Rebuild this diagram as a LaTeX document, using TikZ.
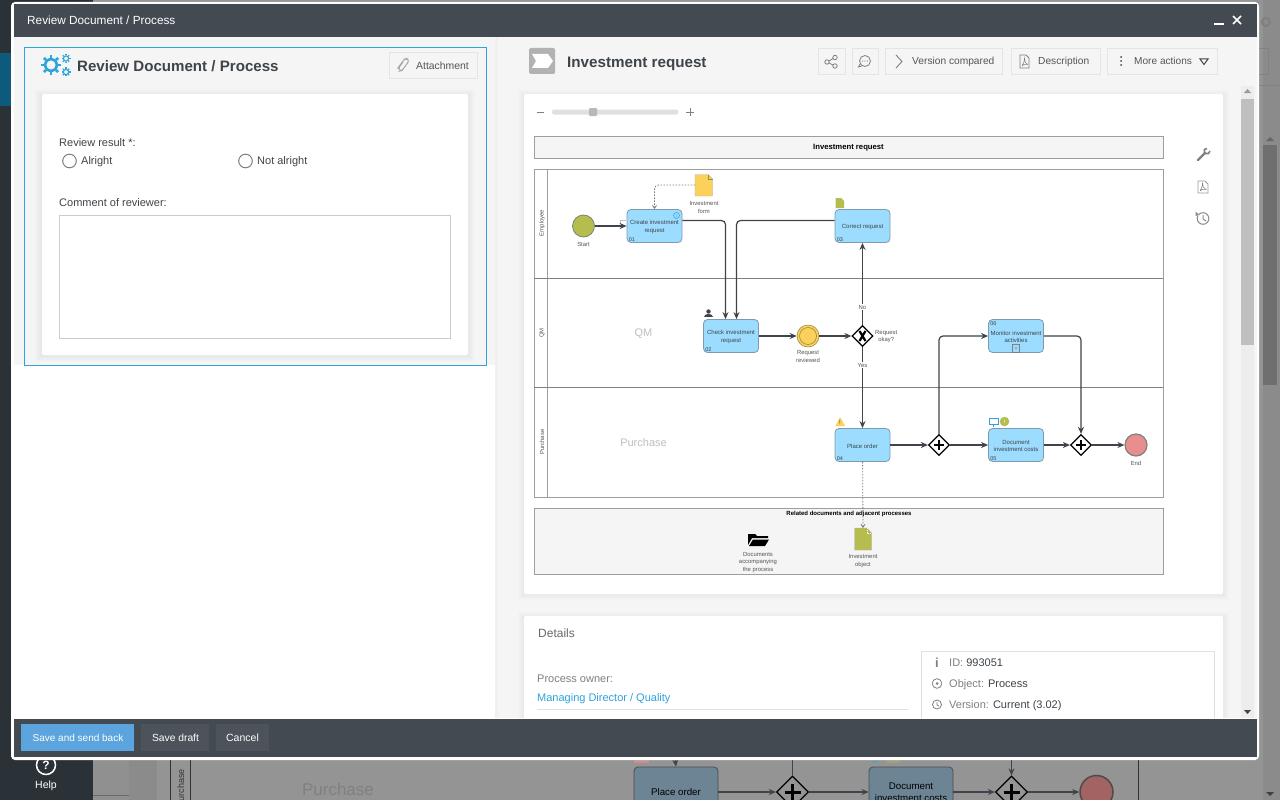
\documentclass[tikz,border=0pt]{standalone}
\usepackage{fontspec}
\setmainfont{Liberation Sans}
\usetikzlibrary{arrows.meta,shapes.geometric,calc}
\definecolor{bar}{HTML}{434A51}
\definecolor{side}{HTML}{2A3137}
\definecolor{dim}{HTML}{949494}
\definecolor{pane}{HTML}{F5F5F5}
\definecolor{cyan1}{HTML}{2EA3DC}
\definecolor{task}{HTML}{9CDCFF}
\definecolor{taskb}{HTML}{7F9BAE}
\definecolor{olive}{HTML}{B5BD4E}
\definecolor{yel}{HTML}{FBD15B}
\definecolor{redd}{HTML}{E88E8E}
\definecolor{ln}{HTML}{3E444A}
\definecolor{txt}{HTML}{555555}
\definecolor{btnb}{HTML}{E4E4E4}
\definecolor{mainbtn}{HTML}{5BA4DD}
\definecolor{deep}{HTML}{0D5A7D}
\tikzset{
 x=1pt,y=-1pt,
 lbl/.style={inner sep=0pt,align=center,text=#1},
 lbl/.default=txt,
 f/.style={font=\fontsize{#1}{13}\selectfont,text height=#1*.72pt,text depth=0pt},
 btn/.style={draw=btnb,fill=pane,line width=.8pt},
 task/.style={draw=taskb,fill=task,rounded corners=4pt,line width=.8pt,minimum width=55pt,minimum height=33pt,inner sep=0pt,align=center,font=\fontsize{6}{7.2}\selectfont,text=ln,text height=6.4pt},
 mtask/.style={task,text height=13.5pt},
 bgtask/.style={task,draw=black!70,fill=taskb!85!black,minimum width=84pt,minimum height=50pt,text=black,font=\fontsize{9.7}{11.7}\selectfont,text height=7pt},
 bgmtask/.style={bgtask,text height=19pt},
 flow/.style={draw=ln,line width=1.2pt,rounded corners=4pt,-{Stealth[length=7pt,width=6pt]}},
 assoc/.style={draw=ln!70,line width=.8pt,dash pattern=on 1.5pt off 1.5pt,rounded corners=4pt,-{Straight Barb[length=3pt,width=4pt]}},
 gate/.style={diamond,draw=black,fill=white,line width=1.2pt,minimum width=21pt,minimum height=21pt,inner sep=0pt,aspect=1},
 small/.style={inner sep=0pt,align=center,text=txt,font=\fontsize{5.9}{7.2}\selectfont},
 lane/.style={draw=black!38,line width=.9pt},
 shadow/.style={fill=black,opacity=.009},
}
\begin{document}
\begin{tikzpicture}
\useasboundingbox (0,0) rectangle (1280,800);
% background
\fill[dim] (0,0) rectangle (1280,800);
\fill[side] (0,0) rectangle (93,800);
\fill[deep] (0,53) rectangle (12,106);
\fill[black!6!dim] (1263,0) rectangle (1280,800);
\draw[line width=2pt,color=black!50] (1266,22) circle (4pt);
\draw[black!12!dim,line width=.8pt] (1259,48) -- (1268,48) -- (1268,74) -- (1259,74) (1259,85) -- (1280,85);
\node[lbl=white!75,f=10.5] at (46,785) {Help};
\draw[white!75,line width=1.5pt] (46,765) circle (9.5pt);
\node[lbl=white!75,font=\bfseries\fontsize{12}{13}\selectfont,text height=8.6pt,text depth=0pt] at (46,765) {?};
\fill[black!3!dim] (93,755) rectangle (129,800);
\draw[black!30!dim,line width=.8pt] (93,795) -- (129,795) -- (129,760);
\fill[black!6!dim] (129,755) rectangle (157,800);
\draw[black!80,line width=.8pt] (170,760) -- (170,800) (190,760) -- (190,800) (1138,760) -- (1138,800);
\node[lbl=black!80,f=9,rotate=90] at (181,785) {urchase};
\node[lbl=black!50,f=17] at (338,789) {Purchase};
% background diagram
\node[bgtask] (bgo) at (676,792) {Place order};
\node[bgmtask] (bgd) at (911,792) {Document\\investment costs};
\node[gate,minimum width=32pt,minimum height=32pt,fill=dim] (bgg1) at (792.5,792) {};
\node[gate,minimum width=32pt,minimum height=32pt,fill=dim] (bgg2) at (1011.5,792) {};
\foreach \g in {bgg1,bgg2}{\draw[black,line width=3pt] ($(\g)+(-8,0)$) -- ($(\g)+(8,0)$) ($(\g)+(0,-8)$) -- ($(\g)+(0,8)$);}
\node[circle,draw=black!70,fill=redd!70!black,line width=1.5pt,minimum size=33pt,inner sep=0pt] (bge) at (1096.5,792) {};
\draw[flow,line width=1.5pt] (bgo) -- (bgg1); \draw[flow,line width=1.5pt] (bgg1) -- (bgd); \draw[flow,line width=1.5pt] (bgd) -- (bgg2); \draw[flow,line width=1.5pt] (bgg2) -- (bge);
\coordinate (bgt0) at (792.5,760); \draw[ln,line width=1pt] (bgt0) -- (bgg1.north);
\coordinate (bgt1) at (675,758); \coordinate (bgt2) at (1011.5,758);
\draw[flow,line width=1pt] (bgt1) -- (bgo.north); \draw[flow,line width=1pt] (bgt2) -- (bgg2.north);
\fill[redd!60!dim] (634,760) rectangle (649,762.5);
\fill[cyan1!40!dim] (872,760) rectangle (878,762.5);
\fill[olive!30!dim] (886,760) rectangle (900,762.5);
\fill[black!25!dim] (1263,145) rectangle (1277,385);
\fill[black!75] (1266,792) -- (1274,792) -- (1270,796) -- cycle;
\fill[black!60] (1266,141) -- (1274,141) -- (1270,137) -- cycle;
% modal
\fill[white,rounded corners=4pt] (11,2) rectangle (1259,760);
\fill[bar] (14,4) rectangle (1257,37);
\node[lbl=white,f=11.8,anchor=west] at (27,20) {Review Document / Process};
\draw[white,line width=1.6pt] (1214,24) -- (1224,24);
\draw[white,line width=1.6pt] (1233,16) -- (1241,24) (1241,16) -- (1233,24);
% left pane
\fill[pane] (14,37) rectangle (495,718);
\fill[white] (14,365) rectangle (495,718);
\draw[cyan1,line width=.8pt] (24,47) rectangle (486,365);
\foreach \e in {1,...,7}{\fill[shadow] (42-\e,94-\e+2) rectangle (468+\e,355+\e);}
\fill[white,rounded corners=1.5pt] (42,94) rectangle (468,355);
\foreach \cx/\cy/\r in {51/65/10,66/58.5/4.5,66/72/4.5}{
  \draw[cyan1,line width=\r*.26pt] (\cx,\cy) circle (\r*.58pt);
  \foreach \a in {0,45,...,315}{\draw[cyan1,line width=\r*.26pt] ($(\cx,\cy)+(\a:\r*.7pt)$) -- ($(\cx,\cy)+(\a:\r*1.0pt)$);}
}
\node[lbl=ln,anchor=west,font=\bfseries\fontsize{15.1}{17}\selectfont,text height=10.9pt,text depth=0pt] at (77,66) {Review Document / Process};
\draw[btn] (389.5,52.5) rectangle (477.5,78.5);
\node[lbl,f=10.4,anchor=west] at (416,65.5) {Attachment};
\draw[gray!70,line width=1pt,rounded corners=1.5pt] (403,62) -- (398.5,68) -- (400,71) -- (402,70.5) -- (409,61) -- (407,58.5) -- (404.5,59) -- (397.5,68.5);
\node[lbl=ln,f=11,anchor=west] at (59,142.5) {Review result *:};
\draw[gray,line width=1pt] (69.5,161) circle (6.8pt);
\node[lbl=ln,f=11,anchor=west] at (81,161) {Alright};
\draw[gray,line width=1pt] (245.5,161) circle (6.8pt);
\node[lbl=ln,f=11,anchor=west] at (257,161) {Not alright};
\node[lbl=ln,f=11,anchor=west] at (59,203) {Comment of reviewer:};
\draw[black!20,line width=.8pt] (59,215) rectangle (450.5,338);
% divider
\fill[black!6] (495,37) rectangle (498,718);
% right pane
\fill[pane] (498,37) rectangle (1257,718);
\fill[gray!60,rounded corners=1.5pt] (529,48) rectangle (555,74);
\fill[white] (532,54) -- (548,54) -- (553,61) -- (548,68) -- (532,68) -- (536,61) -- cycle;
\node[lbl=ln,anchor=west,font=\bfseries\fontsize{15.2}{18}\selectfont,text height=10.9pt,text depth=0pt] at (567,62.5) {Investment request};
\draw[btn] (818,48) rectangle (845,74);
\draw[gray,line width=.8pt] (827,62) circle (2.2pt) (835,57.5) circle (2.2pt) (835,66) circle (2.2pt) (829,61) -- (833,58.5) (829,63) -- (833,65);
\draw[btn] (852,48) rectangle (878,74);
\draw[gray,line width=.8pt] (865,61) circle (5.5pt);
\draw[gray,line width=.8pt] (860,64) -- (858.5,67) -- (862,66);
\foreach \xx in {862.5,865,867.5}{\fill[gray] (\xx,61) circle (.6pt);}
\draw[btn] (885,48) rectangle (1002,74);
\draw[gray,line width=.9pt] (896,55) -- (902,61.5) -- (896,68);
\node[lbl,f=10.2,anchor=west] at (912,61) {Version compared};
\draw[btn] (1011,48) rectangle (1100,74);
\draw[gray,line width=.8pt] (1020,55) -- (1026,55) -- (1029,58) -- (1029,68) -- (1020,68) -- cycle;
\draw[gray,line width=.5pt] (1022,66) .. controls (1024,62) and (1025,60) .. (1024.5,58) .. controls (1024,61) and (1026,64) .. (1027.5,64.5) .. controls (1025,63.5) and (1023,64.5) .. (1022,66);
\node[lbl,f=10.2,anchor=west] at (1038,61) {Description};
\draw[btn] (1107,48) rectangle (1217,74);
\foreach \yy in {57,61,65}{\fill[ln] (1121,\yy) circle (1pt);}
\node[lbl,f=10.1,anchor=west] at (1134,61) {More actions};
\draw[ln,line width=1pt] (1200,59) -- (1208,59) -- (1204,64.5) -- cycle;
% white card
\foreach \e in {1,...,6}{\fill[shadow] (524-\e,94-\e+2) rectangle (1223+\e,594+\e);}
\fill[white,rounded corners=1.5pt] (524,94) rectangle (1223,594);
% scrollbar
\fill[black!7] (1241,86) rectangle (1254,718);
\fill[gray!50] (1241,99) rectangle (1254,345);
\fill[gray!80] (1244,93) -- (1251,93) -- (1247.5,89) -- cycle;
\fill[ln] (1244,710) -- (1251,710) -- (1247.5,714) -- cycle;
% slider
\draw[gray,line width=1pt] (537,112) -- (544,112);
\fill[black!12,rounded corners=1.5pt] (552,109.5) rectangle (678,114.5);
\fill[black!28,rounded corners=1pt] (589,108) rectangle (597,116);
\draw[gray,line width=1pt] (686,112) -- (694,112) (690,108) -- (690,116);
% side tools
\draw[gray,line width=2.2pt,line cap=round] (1198,160) -- (1205,153);
\draw[gray,line width=1.6pt] (1204.5,153.5) -- (1204.5,149.5) -- (1207,148.5) (1204.5,153.5) -- (1208.5,153.5) -- (1210,151);
\draw[gray!80,line width=.8pt] (1198,181) -- (1205,181) -- (1208,184) -- (1208,193) -- (1198,193) -- cycle;
\draw[gray,line width=.5pt] (1200,191) .. controls (1202,187) and (1203,185) .. (1202.5,183) .. controls (1202,186) and (1204,189) .. (1206,189.5) .. controls (1203,188.5) and (1201,189.5) .. (1200,191);
\draw[gray!90,line width=1pt] (1203,218.5) circle (5.8pt);
\fill[white] (1195.5,211) rectangle (1199,216);
\fill[gray!90] (1195.5,211.5) -- (1199.5,215) -- (1195.5,216) -- cycle;
\draw[gray!90,line width=1pt] (1203,215) -- (1203,219) -- (1206,221);
% header box
\draw[lane,fill=pane] (534,136) rectangle (1163,158);
\node[lbl=black,font=\bfseries\fontsize{7.7}{9}\selectfont,text height=5.5pt,text depth=0pt] at (848.5,147) {Investment request};
% swim lanes
\draw[lane] (534,169) rectangle (1163,497);
\draw[lane] (547,169) -- (547,497);
\draw[black!50,line width=.7pt] (534,278) -- (1163,278) (534,387) -- (1163,387);
\node[small,rotate=90] at (542,223) {Employee};
\node[small,rotate=90] at (542,333) {QM};
\node[small,rotate=90] at (542,442) {Purchase};
\node[lbl=black!25,f=11] at (643.5,333) {QM};
\node[lbl=black!25,f=11] at (643.5,442.5) {Purchase};
% related box
\draw[lane,fill=pane] (534,508) rectangle (1163,574);
\node[lbl=black,font=\bfseries\fontsize{6}{7}\selectfont,text height=4.3pt,text depth=0pt] at (849,513) {Related documents and adjacent processes};
% nodes
\node[circle,draw=gray,fill=olive,line width=.8pt,minimum size=22pt,inner sep=0pt] (start) at (583.5,226) {};
\node[small] at (583.5,244) {Start};
\node[mtask] (t1) at (654.5,226) {Create investment\\request};
\node[task] (t3) at (862.5,226) {Correct request};
\node[mtask] (t2) at (731,336) {Check investment\\request};
\node[mtask] (t6) at (1016,336) {Monitor investment\\activities};
\node[task] (t4) at (862.5,445) {Place order};
\node[mtask] (t5) at (1016,445) {Document\\investment costs};
\foreach \n/\t in {t1/01,t3/03,t2/02,t4/04,t5/05}{
 \node[lbl=ln,f=5.5,anchor=south west] at ($(\n.south west)+(2,-1.5)$) {\t};}
\node[lbl=ln,f=5.5,anchor=north west] at ($(t6.north west)+(2,2)$) {06};
\draw[gray,line width=.5pt] (1012.5,344) rectangle (1019.5,352);
\node[lbl=gray,f=6] at (1016,348) {+};
\node[circle,draw=cyan1,line width=.5pt,minimum size=6pt,lbl=cyan1,f=4.5] at (676.5,215.5) {i};
\draw[gray!50,line width=.5pt] (626,220.5) -- (620.5,220.5) -- (620.5,224);
\node[circle,fill=yel,draw=yel!60!black,line width=.5pt,minimum size=22pt,inner sep=0pt] (ev) at (808,336) {};
\draw[yel!60!black,line width=.5pt] (808,336) circle (8.5pt);
\node[small] at (808,356.5) {Request\\reviewed};
\node[gate] (gx) at (862.5,336) {};
\draw[black,line width=2.2pt] ($(gx)+(-3,-5)$) -- ($(gx)+(3,5)$) ($(gx)+(3,-5)$) -- ($(gx)+(-3,5)$);
\node[small,anchor=west] at (875,336.5) {Request\\okay?};
\node[gate] (gp1) at (939,445) {};
\node[gate] (gp2) at (1081,445) {};
\foreach \g in {gp1,gp2}{\draw[black,line width=2.1pt] ($(\g)+(-5,0)$) -- ($(\g)+(5,0)$) ($(\g)+(0,-5)$) -- ($(\g)+(0,5)$);}
\node[circle,draw=gray,fill=redd,line width=1.2pt,minimum size=22pt,inner sep=0pt] (end) at (1136,445) {};
\node[small] at (1136,463.5) {End};
% documents
\fill[yel,draw=gray!60,line width=.4pt] (695,174.5) -- (708,174.5) -- (712.5,179) -- (712.5,196) -- (695,196) -- cycle;
\draw[olive!80!black,line width=.4pt] (708,174.5) -- (708,179) -- (712.5,179);
\coordinate (dform) at (695,185);
\node[small] at (704,207.5) {Investment\\form};
\fill[olive] (835.5,198) -- (841,198) -- (844,201) -- (844,208) -- (835.5,208) -- cycle;
\fill[olive,draw=gray!60,line width=.4pt] (854.5,528) -- (867,528) -- (871.5,533) -- (871.5,550) -- (854.5,550) -- cycle;
\draw[white,line width=.5pt,dash pattern=on 1pt off 1pt] (867,528) -- (867,533) -- (871.5,533);
\coordinate (dobj) at (863,528);
\node[small] at (863,561) {Investment\\object};
\fill[black] (748,534) -- (755,534) -- (757,536) -- (768,536) -- (768,538) -- (752,538) -- (748,545) -- cycle;
\fill[black] (753,539.5) -- (769,539.5) -- (765,546) -- (749,546) -- cycle;
\node[small] at (758,562.5) {Documents\\accompanying\\the process};
% icons
\fill[ln] (708.5,311.5) circle (2.2pt);
\fill[ln] (704,317) .. controls (704,313) and (713,313) .. (713,317) -- cycle;
\fill[yel] (835.5,426) -- (840,417) -- (845,426) -- cycle;
\node[lbl=ln,f=6] at (840,422.5) {!};
\draw[cyan1,line width=.8pt] (989,418.5) rectangle (998,424.5);
\draw[cyan1,line width=.8pt] (993.5,424.5) -- (993.5,427);
\node[circle,fill=olive,minimum size=9.5pt,lbl=white,f=6] at (1004.5,421.5) {\textit{i}};
% connectors
\draw[flow] (start) -- (t1);
\draw[flow] ($(t1.east)+(0,-5.5)$) -| ($(t2.north)+(-5.5,0)$);
\draw[flow] ($(t3.west)+(0,-5.5)$) -| ($(t2.north)+(5.5,0)$);
\draw[flow] (t2) -- (ev);
\draw[flow] (ev) -- (gx);
\draw[flow] (gx) -- (t3);
\draw[flow] (gx) -- (t4);
\draw[flow] (t4) -- (gp1);
\draw[flow] (gp1) -- (t5);
\draw[flow] (t5) -- (gp2);
\draw[flow] (gp2) -- (end);
\draw[flow] (gp1) |- (t6);
\draw[flow] (t6) -| (gp2);
\draw[assoc] (dform) -| (t1.north);
\draw[assoc] (t4) -- (dobj);
\node[lbl=txt,fill=white,inner xsep=1pt,inner ysep=.5pt,f=5.9] at (862.5,307) {No};
\node[lbl=txt,fill=white,inner xsep=1pt,inner ysep=.5pt,f=5.9] at (862.5,365) {Yes};
% details card
\foreach \e in {1,...,6}{\fill[shadow] (524-\e,616-\e+2) rectangle (1223+\e,718);}
\fill[white,rounded corners=1.5pt] (524,616) rectangle (1223,725);
\node[lbl=ln!80,f=12,anchor=west] at (538,633) {Details};
\node[lbl=gray,f=11,anchor=west] at (537,678.5) {Process owner:};
\node[lbl=cyan1,f=11,anchor=west] at (537,698) {Managing Director / Quality};
\draw[black!12,line width=.8pt] (537,709) -- (908,709);
\draw[black!12,line width=.8pt] (921,718) -- (921,651.5) -- (1214,651.5) -- (1214,718);
\node[lbl=gray,font=\bfseries\fontsize{13}{13}\selectfont,text height=9.4pt,text depth=0pt] at (937,662.5) {i};
\node[lbl=ln,f=11,anchor=west] at (949,662.5) {\textcolor{gray}{ID:} 993051};
\draw[gray,line width=.8pt] (937,683.5) circle (4.8pt);
\fill[gray] (937,683.5) circle (1.5pt);
\node[lbl=ln,f=11,anchor=west] at (949,683.5) {\textcolor{gray}{Object:} Process};
\draw[gray,line width=.8pt] (937,704.5) circle (4.5pt);
\draw[gray,line width=.7pt] (937,702) -- (937,705) -- (939,706);
\node[lbl=ln,f=11,anchor=west] at (949,704.5) {\textcolor{gray}{Version:} Current (3.02)};
% footer
\fill[bar] (14,719) rectangle (1257,757);
\fill[mainbtn] (21,724) rectangle (134,751);
\node[lbl=white,f=10,anchor=center] at (78,737.5) {Save and send back};
\fill[white!5!bar] (141,724) rectangle (209,751);
\node[lbl=white,f=10.3] at (175.5,737.5) {Save draft};
\fill[white!5!bar] (216,724) rectangle (269,751);
\node[lbl=white,f=10.5] at (242.5,737.5) {Cancel};
\end{tikzpicture}
\end{document}
